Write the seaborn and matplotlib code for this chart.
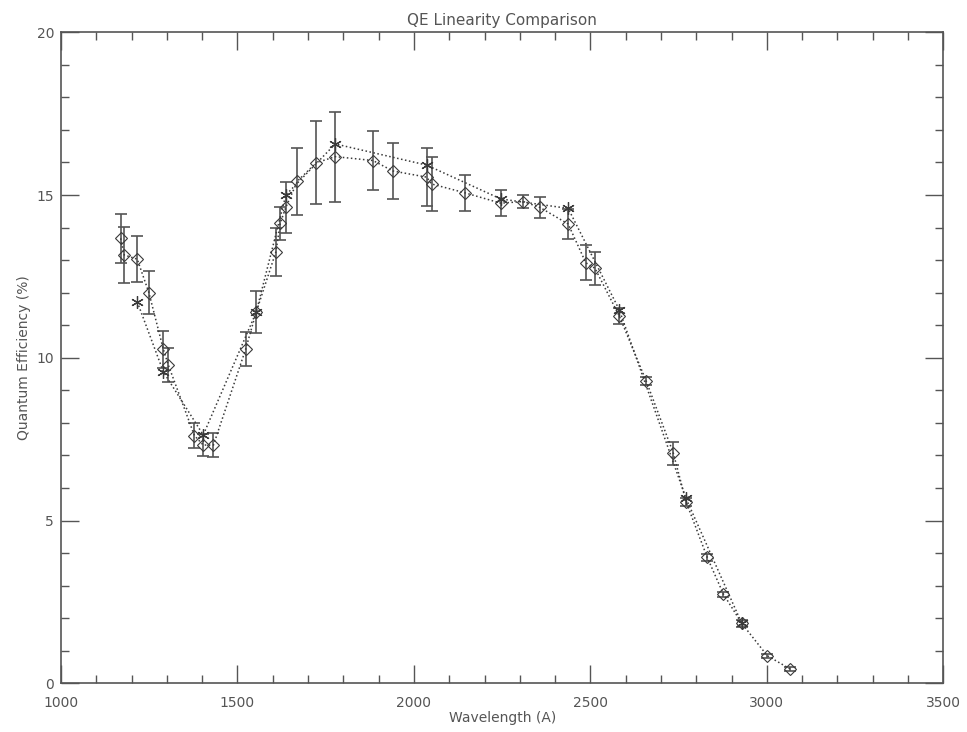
import numpy as np
import pandas as pd
import matplotlib
matplotlib.use("Agg")
import matplotlib.pyplot as plt
import seaborn as sns
from matplotlib.ticker import MultipleLocator

# diamond series (with error bars)
wl_diamond = [1169, 1179, 1216, 1249, 1290, 1304, 1378, 1403, 1432, 1523,
              1553, 1609, 1621, 1637, 1670, 1723, 1777, 1884, 1940, 2036,
              2050, 2144, 2246, 2310, 2357, 2437, 2487, 2513, 2582, 2658,
              2735, 2771, 2831, 2877, 2929, 3001, 3066]
qe_diamond = [13.67, 13.16, 13.03, 12.00, 10.26, 9.78, 7.61, 7.32, 7.32, 10.26,
              11.40, 13.26, 14.13, 14.62, 15.43, 15.99, 16.18, 16.06, 15.74, 15.55,
              15.34, 15.07, 14.75, 14.80, 14.62, 14.11, 12.92, 12.75, 11.28, 9.29,
              7.07, 5.58, 3.87, 2.74, 1.84, 0.85, 0.44]
err_diamond = [0.75, 0.86, 0.70, 0.66, 0.56, 0.51, 0.38, 0.35, 0.38, 0.52,
               0.65, 0.74, 0.50, 0.78, 1.03, 1.27, 1.38, 0.90, 0.87, 0.90,
               0.83, 0.55, 0.40, 0.20, 0.32, 0.47, 0.53, 0.50, 0.25, 0.12,
               0.35, 0.12, 0.10, 0.08, 0.10, 0.06, 0.05]

# asterisk series
wl_star = [1216, 1290, 1403, 1553, 1637, 1777, 2036, 2246, 2437, 2582, 2771, 2929]
qe_star = [11.72, 9.57, 7.63, 11.40, 15.00, 16.57, 15.92, 14.88, 14.59, 11.47, 5.68, 1.84]

GREY = "#555555"
LINE = "#3a3a3a"

sns.set_style("white")
plt.rcParams["font.family"] = ["DejaVu Sans"]

fig = plt.figure(figsize=(9.67, 7.32), dpi=100)
ax = fig.add_axes([0.0631, 0.0665, 0.9124, 0.8894])

dia = pd.DataFrame({"wl": wl_diamond, "qe": qe_diamond})
star = pd.DataFrame({"wl": wl_star, "qe": qe_star})

ax.errorbar(wl_diamond, qe_diamond, yerr=err_diamond, fmt="none",
            ecolor=GREY, elinewidth=1.2, capsize=4, capthick=1.2, zorder=2)
sns.lineplot(data=dia, x="wl", y="qe", ax=ax, sort=False, color=LINE,
             linestyle=":", linewidth=1.1, marker="D", markersize=6,
             markerfacecolor="none", markeredgecolor=LINE, markeredgewidth=0.8,
             zorder=3)
sns.lineplot(data=star, x="wl", y="qe", ax=ax, sort=False, color=LINE,
             linestyle=":", linewidth=1.1, marker=(6, 2, 0), markersize=9,
             markeredgecolor=LINE, markeredgewidth=0.9, zorder=3)

ax.set_xlim(1000, 3500)
ax.set_ylim(0, 20)
ax.xaxis.set_major_locator(MultipleLocator(500))
ax.xaxis.set_minor_locator(MultipleLocator(100))
ax.yaxis.set_major_locator(MultipleLocator(5))
ax.yaxis.set_minor_locator(MultipleLocator(1))
ax.tick_params(which="both", direction="in", top=True, right=True,
               bottom=True, left=True,
               color=GREY, labelcolor=GREY, labelsize=10, width=1)
ax.tick_params(which="major", length=13)
ax.tick_params(which="minor", length=6)
ax.tick_params(axis="x", which="major", pad=9)
ax.tick_params(axis="y", which="major", pad=5)
for sp in ax.spines.values():
    sp.set_color(GREY)
    sp.set_linewidth(1.2)

ax.set_xlabel("Wavelength (A)", color=GREY, fontsize=10, labelpad=1)
ax.set_ylabel("Quantum Efficiency (%)", color=GREY, fontsize=10, labelpad=4)
ax.set_title("QE Linearity Comparison", color=GREY, fontsize=11, pad=5)

fig.savefig("out.png", dpi=100)
